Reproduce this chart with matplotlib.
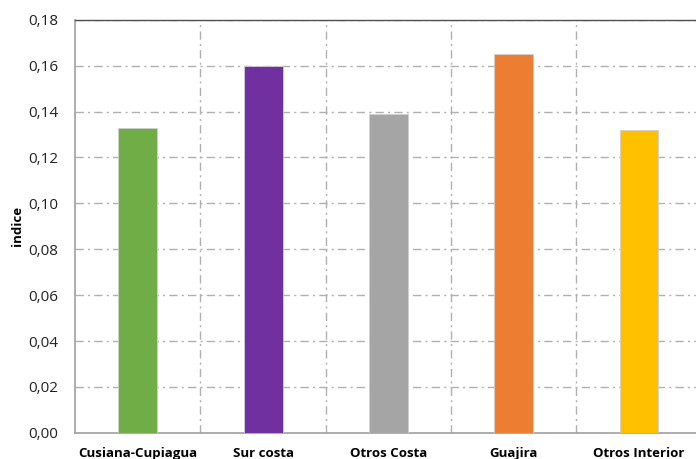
import matplotlib.pyplot as plt
from matplotlib.ticker import FuncFormatter, MultipleLocator

plt.rcParams['font.family'] = ['Open Sans', 'DejaVu Sans']

# Index per producing region
campos = ['Cusiana-Cupiagua', 'Sur costa', 'Otros Costa', 'Guajira', 'Otros Interior']
indice = [0.133, 0.160, 0.139, 0.165, 0.132]
colores = ['#70AD47', '#7030A0', '#A5A5A5', '#ED7D31', '#FFC000']

fig = plt.figure(figsize=(6.96, 4.59), dpi=100)
ax = fig.add_axes([0.108, 0.057, 0.90, 0.9])

x = range(len(campos))
ax.bar(x, indice, width=0.31, color=colores, edgecolor='#d0d0d0', linewidth=0.6, zorder=3)

ax.set_xlim(-0.5, 4.5)
ax.set_ylim(0, 0.18)
ax.yaxis.set_major_locator(MultipleLocator(0.02))
ax.yaxis.set_major_formatter(FuncFormatter(lambda v, p: f'{v:.2f}'.replace('.', ',')))

ax.set_xticks(list(x))
ax.set_xticklabels(campos, fontsize=9.5, fontweight='bold')
ax.set_xticks([i + 0.5 for i in range(len(campos))], minor=True)
ax.tick_params(axis='x', which='both', length=0, pad=10)
ax.tick_params(axis='y', length=0, labelsize=11, pad=12, labelcolor='#222222')

ax.grid(axis='y', which='major', color='#b0b0b0', linestyle=(0, (6, 3, 1.5, 3)), linewidth=1, zorder=0)
ax.grid(axis='x', which='minor', color='#b0b0b0', linestyle=(0, (6, 3, 1.5, 3)), linewidth=1, zorder=0)

for side in ['left', 'bottom']:
    ax.spines[side].set_color('#a0a0a0')
    ax.spines[side].set_linewidth(1.2)
ax.spines['top'].set_color('#505050')
ax.spines['top'].set_linewidth(1)
ax.spines['right'].set_visible(False)

ax.set_ylabel('indice', fontsize=9.5, fontweight='bold', labelpad=3)

fig.savefig('out.png', dpi=100)
